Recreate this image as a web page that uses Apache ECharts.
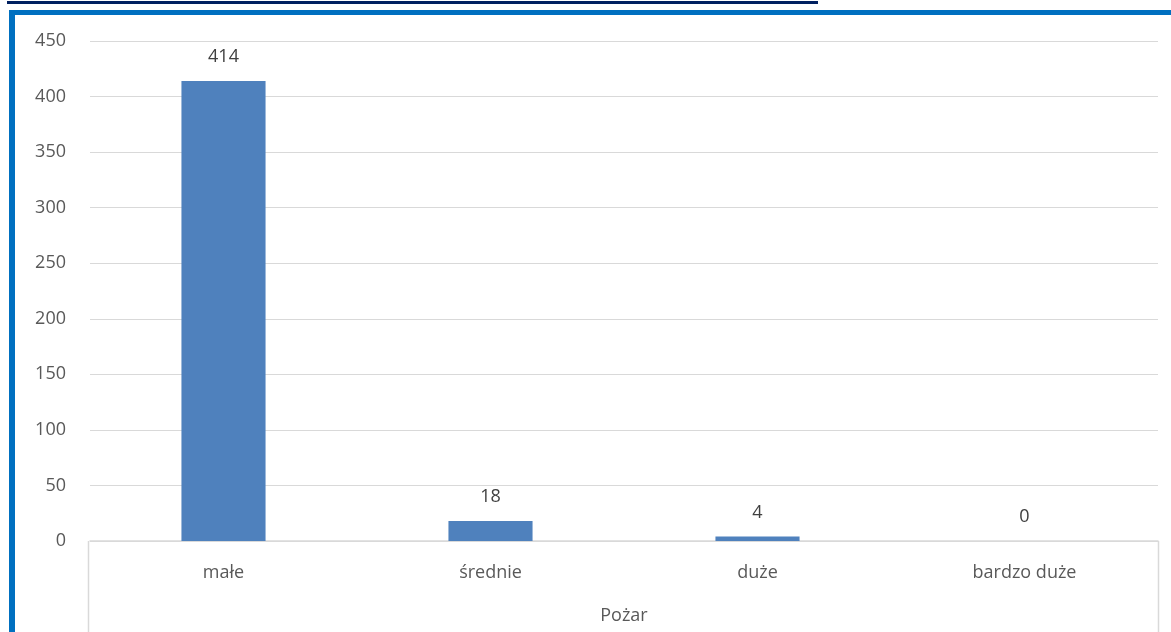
<!DOCTYPE html>
<html><head><meta charset="utf-8">
<script src="https://cdn.jsdelivr.net/npm/echarts@6/dist/echarts.min.js"></script>
<style>html,body{margin:0;padding:0;background:#fff;}#c{width:1171px;height:632px;}</style>
</head><body><div id="c"></div>
<script>
const categories = ['małe', 'średnie', 'duże', 'bardzo duże'];
const values = [414, 18, 4, 0];
const axisName = 'Pożar';
const yTicks = [0, 50, 100, 150, 200, 250, 300, 350, 400, 450];

const chart = echarts.init(document.getElementById('c'));
const font = '"Open Sans", "Noto Sans", sans-serif';
chart.setOption({
  animation: false,
  textStyle: { fontFamily: font },
  grid: { left: 90, right: 13, top: 41, bottom: 91, containLabel: false },
  xAxis: {
    type: 'category', data: categories,
    axisLine: { show: true, lineStyle: { color: '#d9d9d9', width: 1.5 } },
    axisTick: { show: false },
    axisLabel: { color: '#595959', fontSize: 18, margin: 23, fontFamily: font },
    name: axisName, nameLocation: 'middle', nameGap: 66,
    nameTextStyle: { color: '#595959', fontSize: 18, fontFamily: font }
  },
  yAxis: {
    type: 'value', min: yTicks[0], max: yTicks[yTicks.length - 1], interval: 50,
    axisLine: { show: false }, axisTick: { show: false },
    axisLabel: { color: '#595959', fontSize: 18, margin: 24, fontFamily: font },
    splitLine: { lineStyle: { color: '#d9d9d9', width: 1 } }
  },
  series: [{
    type: 'bar', data: values, barWidth: '31.5%',
    itemStyle: { color: '#4f81bd' },
    label: { show: true, position: 'top', distance: 15, color: '#404040', fontSize: 18, fontFamily: font }
  }],
  graphic: [
    { type: 'rect', shape: { x: 9, y: 10, width: 6, height: 622 }, style: { fill: '#0070c0' } },
    { type: 'rect', shape: { x: 9, y: 10, width: 1162, height: 5 }, style: { fill: '#0070c0' } },
    { type: 'rect', shape: { x: 7, y: 1, width: 811, height: 3 }, style: { fill: '#002060' } },
    { type: 'line', shape: { x1: 88.5, y1: 541, x2: 88.5, y2: 632 }, style: { stroke: '#d9d9d9', lineWidth: 1.5 } },
    { type: 'line', shape: { x1: 1158.5, y1: 541, x2: 1158.5, y2: 632 }, style: { stroke: '#d9d9d9', lineWidth: 1.5 } }
  ]
});
</script></body></html>
